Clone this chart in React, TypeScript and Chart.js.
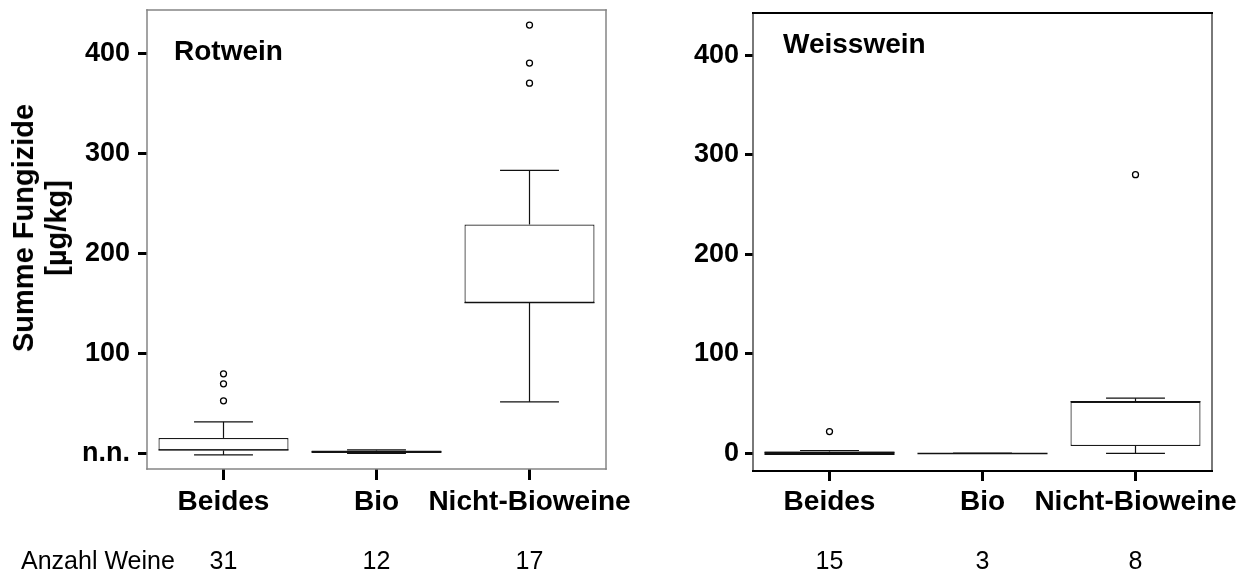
import React, { useEffect, useRef } from 'react';
import { Chart, registerables } from 'chart.js';

Chart.register(...registerables);

const FONT = '"Liberation Sans", Arial, Helvetica, sans-serif';

// ---------- data ----------
const categories = ['Beides', 'Bio', 'Nicht-Bioweine'];
const yTickValues = [0, 100, 200, 300, 400];

// Rotwein
const rotMin = [-1, 0.5, 52];
const rotQ1 = [3.5, 1, 151];
const rotMedian = [4, 2, 151];
const rotQ3 = [16, 3.5, 229];
const rotMax = [32, 4, 283];
const rotOutliers = [[53, 70, 80], [], [370, 390, 428]];
const rotCounts = ['31', '12', '17'];

// Weisswein
const weissMin = [0, 0, 0];
const weissQ1 = [0, 0, 7.5];
const weissMedian = [0, 0, 52];
const weissQ3 = [2, 0, 52];
const weissMax = [3, 0, 55.5];
const weissOutliers = [[22], [], [280]];
const weissCounts = ['15', '3', '8'];

// ---------- plugins ----------
const whiskerPlugin = {
  id: 'whiskers',
  afterDatasetsDraw(chart: any, _args: any, opts: any) {
    const { ctx } = chart;
    const x = chart.scales.x;
    const y = chart.scales.y;
    const meta = chart.getDatasetMeta(0);
    const catW = x.getPixelForValue(1) - x.getPixelForValue(0);
    const halfCap = (catW * opts.capRatio) / 2;
    const line = (x1: number, y1: number, x2: number, y2: number, w: number) => {
      ctx.lineWidth = w;
      ctx.beginPath();
      ctx.moveTo(x1, y1);
      ctx.lineTo(x2, y2);
      ctx.stroke();
    };
    ctx.save();
    ctx.strokeStyle = opts.color;
    opts.min.forEach((_: number, i: number) => {
      const cx = x.getPixelForValue(i);
      const halfBox = meta.data[i].width / 2;
      const pMin = y.getPixelForValue(opts.min[i]);
      const pQ1 = y.getPixelForValue(opts.q1[i]);
      const pMed = y.getPixelForValue(opts.median[i]);
      const pQ3 = y.getPixelForValue(opts.q3[i]);
      const pMax = y.getPixelForValue(opts.max[i]);
      const w = opts.lineWidth;
      line(cx, pQ3, cx, pMax, w);
      line(cx - halfCap, pMax, cx + halfCap, pMax, w);
      line(cx, pQ1, cx, pMin, w);
      line(cx - halfCap, pMin, cx + halfCap, pMin, w);
      line(cx - halfBox, pMed, cx + halfBox, pMed, opts.medianWidth[i]);
    });
    ctx.restore();
  },
};

const framePlugin = {
  id: 'frame',
  afterDatasetsDraw(chart: any, _args: any, opts: any) {
    const { ctx, chartArea } = chart;
    const { left, right, top, bottom } = chartArea;
    const side = (c: string, w: number, x1: number, y1: number, x2: number, y2: number) => {
      ctx.strokeStyle = c;
      ctx.lineWidth = w;
      ctx.beginPath();
      ctx.moveTo(x1, y1);
      ctx.lineTo(x2, y2);
      ctx.stroke();
    };
    ctx.save();
    ctx.lineCap = 'square';
    side(opts.sideColor, opts.sideWidth, left, top, left, bottom);
    side(opts.sideColor, opts.sideWidth, right, top, right, bottom);
    side(opts.topColor, opts.topWidth, left, top, right, top);
    side(opts.bottomColor, opts.bottomWidth, left, bottom, right, bottom);
    ctx.restore();
  },
};

const noPad = (s: any) => {
  s.paddingTop = 0;
  s.paddingBottom = 0;
  s.paddingLeft = 0;
  s.paddingRight = 0;
};

type Props = {
  min: number[];
  q1: number[];
  median: number[];
  q3: number[];
  max: number[];
  outliers: number[][];
  counts: string[];
  yMin: number;
  yMax: number;
  zeroLabel: string;
  canvasWidth: number;
  yAxisWidth: number;
  padTop: number;
  padRight: number;
  xHeight: number;
  xTickLength: number;
  xPadding: number;
  yTickLength: number;
  yPadding: number;
  medianWidth: number[];
  frame: any;
};

function BoxChart(p: Props) {
  const ref = useRef<HTMLCanvasElement | null>(null);
  useEffect(() => {
    if (!ref.current) return;
    const boxData = categories.map((_, i) => [p.q1[i], p.q3[i]]);
    const outlierData = p.outliers.flatMap((arr, i) => arr.map((v) => ({ x: categories[i], y: v })));
    const chart = new Chart(ref.current, {
      type: 'bar',
      data: {
        labels: categories,
        datasets: [
          {
            type: 'bar',
            data: boxData as any,
            backgroundColor: '#ffffff',
            borderColor: '#1a1a1a',
            borderWidth: 1.2,
            borderSkipped: false,
            barPercentage: 0.85,
            categoryPercentage: 1,
            order: 2,
          } as any,
          {
            type: 'scatter',
            data: outlierData as any,
            pointRadius: 3,
            pointBorderWidth: 1.3,
            pointBackgroundColor: '#ffffff',
            pointBorderColor: '#000000',
            order: 1,
          } as any,
        ],
      },
      options: {
        responsive: false,
        animation: false,
        events: [],
        layout: { padding: { top: p.padTop, right: p.padRight, left: 0, bottom: 0 } },
        plugins: {
          legend: { display: false },
          tooltip: { enabled: false },
          whiskers: {
            min: p.min,
            q1: p.q1,
            median: p.median,
            q3: p.q3,
            max: p.max,
            capRatio: 0.385,
            color: '#111111',
            lineWidth: 1.2,
            medianWidth: p.medianWidth,
          },
          frame: p.frame,
        } as any,
        scales: {
          x: {
            type: 'category',
            offset: true,
            weight: 0,
            grid: {
              display: true,
              drawOnChartArea: false,
              offset: false,
              tickLength: p.xTickLength,
              tickWidth: 3,
              tickColor: '#000',
            },
            border: { display: false },
            ticks: {
              color: '#000',
              font: { family: FONT, size: 28, weight: 'bold' },
              padding: p.xPadding,
              maxRotation: 0,
              autoSkip: false,
            },
            afterFit: (s: any) => {
              s.height = p.xHeight;
              noPad(s);
            },
          },
          x2: {
            type: 'category',
            labels: p.counts,
            position: 'bottom',
            offset: true,
            weight: 1,
            grid: { display: false, drawTicks: false },
            border: { display: false },
            ticks: {
              color: '#000',
              font: { family: FONT, size: 25 },
              padding: 18,
              maxRotation: 0,
              autoSkip: false,
            },
            afterFit: (s: any) => {
              s.height = 45;
              noPad(s);
            },
          },
          y: {
            type: 'linear',
            min: p.yMin,
            max: p.yMax,
            bounds: 'data',
            afterBuildTicks: (s: any) => {
              s.ticks = yTickValues.map((v) => ({ value: v }));
            },
            grid: {
              display: true,
              drawOnChartArea: false,
              tickLength: p.yTickLength,
              tickWidth: 3,
              tickColor: '#000',
            },
            border: { display: false },
            ticks: {
              color: '#000',
              font: { family: FONT, size: 27, weight: 'bold' },
              padding: p.yPadding,
              callback: (v: any) => (Number(v) === 0 ? p.zeroLabel : String(v)),
            },
            afterFit: (s: any) => {
              s.width = p.yAxisWidth;
              noPad(s);
            },
          },
        } as any,
      },
      plugins: [whiskerPlugin, framePlugin],
    } as any);
    return () => chart.destroy();
  }, []);
  return (
    <canvas
      ref={ref}
      width={p.canvasWidth}
      height={574}
      style={{ display: 'block', width: p.canvasWidth, height: 574 }}
    />
  );
}

const titleStyle: React.CSSProperties = {
  position: 'absolute',
  fontFamily: FONT,
  fontWeight: 'bold',
  fontSize: 28,
  lineHeight: '34px',
  color: '#000',
  whiteSpace: 'nowrap',
};

export default function App() {
  return (
    <div
      style={{
        position: 'fixed',
        left: 0,
        top: 0,
        width: 1254,
        height: 574,
        background: '#fff',
        overflow: 'hidden',
      }}
    >
      <div style={{ position: 'absolute', left: 0, top: 0 }}>
        <BoxChart
          min={rotMin}
          q1={rotQ1}
          median={rotMedian}
          q3={rotQ3}
          max={rotMax}
          outliers={rotOutliers}
          counts={rotCounts}
          yMin={-15}
          yMax={443}
          zeroLabel="n.n."
          canvasWidth={680}
          yAxisWidth={147}
          padTop={10}
          padRight={74}
          xHeight={60}
          xTickLength={11}
          xPadding={5}
          yTickLength={9}
          yPadding={8}
          medianWidth={[1.2, 1.2, 1.2]}
          frame={{
            sideColor: '#858585',
            sideWidth: 1.5,
            topColor: '#858585',
            topWidth: 1.5,
            bottomColor: '#858585',
            bottomWidth: 1.5,
          }}
        />
      </div>
      <div style={{ position: 'absolute', left: 627, top: 0 }}>
        <BoxChart
          min={weissMin}
          q1={weissQ1}
          median={weissMedian}
          q3={weissQ3}
          max={weissMax}
          outliers={weissOutliers}
          counts={weissCounts}
          yMin={-17.6}
          yMax={442.3}
          zeroLabel="0"
          canvasWidth={627}
          yAxisWidth={126}
          padTop={13}
          padRight={42}
          xHeight={58}
          xTickLength={10}
          xPadding={4}
          yTickLength={8}
          yPadding={6}
          medianWidth={[3.2, 1.5, 1.2]}
          frame={{
            sideColor: '#4d4d4d',
            sideWidth: 1.5,
            topColor: '#000',
            topWidth: 2,
            bottomColor: '#000',
            bottomWidth: 2,
          }}
        />
      </div>
      <div style={{ ...titleStyle, left: 174, top: 34 }}>Rotwein</div>
      <div style={{ ...titleStyle, left: 783, top: 27 }}>Weisswein</div>
      <div
        style={{
          position: 'absolute',
          left: 39.5,
          top: 228,
          transform: 'translate(-50%, -50%) rotate(-90deg)',
          fontFamily: FONT,
          fontWeight: 'bold',
          fontSize: 29,
          lineHeight: '33px',
          textAlign: 'center',
          whiteSpace: 'nowrap',
          color: '#000',
        }}
      >
        Summe Fungizide
        <br />
        [µg/kg]
      </div>
      <div
        style={{
          position: 'absolute',
          left: 21,
          top: 545,
          fontFamily: FONT,
          fontSize: 25,
          lineHeight: '30px',
          color: '#000',
          whiteSpace: 'nowrap',
        }}
      >
        Anzahl Weine
      </div>
    </div>
  );
}
